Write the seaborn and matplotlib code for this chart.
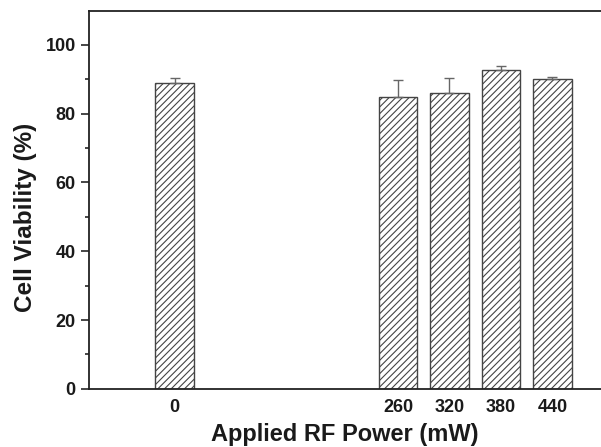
import numpy as np
import pandas as pd
import seaborn as sns
import matplotlib.pyplot as plt
from matplotlib import font_manager

# Values
power_mw = [0, 260, 320, 380, 440]
viability = [89.0, 84.9, 86.1, 92.8, 90.1]
viability_err = [1.4, 4.9, 4.2, 1.2, 0.5]

data = pd.DataFrame({'power': power_mw, 'viability': viability})

# keep the narrow Liberation cut from being picked instead of the regular one
font_manager.fontManager.ttflist = [f for f in font_manager.fontManager.ttflist
                                    if 'Narrow' not in f.fname]
font_manager.fontManager._findfont_cached.cache_clear()

sns.set_style('ticks')
plt.rcParams['font.family'] = ['Liberation Sans', 'DejaVu Sans']
plt.rcParams['hatch.linewidth'] = 0.8
plt.rcParams['hatch.color'] = '#555555'

fig = plt.figure(figsize=(6.01, 4.47), dpi=100)
ax = fig.add_axes([0.148, 0.130, 0.852, 0.8465])

sns.barplot(data=data, x='power', y='viability', native_scale=True, width=0.75,
            errorbar=None, color='white', edgecolor='#444444', linewidth=1.0,
            hatch='/////', ax=ax)

# upward-only error bars
ax.errorbar(power_mw, viability, yerr=[np.zeros(len(viability_err)), viability_err],
            fmt='none', ecolor='#666666', elinewidth=1.0, capsize=3.5, capthick=1.0)

ax.set_xlim(-100, 496.5)
ax.set_ylim(0, 110)
ax.set_xticks(power_mw)
ax.set_xticklabels([str(p) for p in power_mw])
ax.set_yticks([0, 20, 40, 60, 80, 100])
ax.set_yticks([10, 30, 50, 70, 90], minor=True)

ax.tick_params(axis='x', length=0, pad=7, labelsize=13, labelcolor='#1a1a1a')
ax.tick_params(axis='y', which='major', direction='out', length=6, width=1.2,
               pad=3.5, labelsize=13, labelcolor='#1a1a1a')
ax.tick_params(axis='y', which='minor', direction='out', length=3, width=1.2)
for lab in ax.get_xticklabels() + ax.get_yticklabels():
    lab.set_fontweight('bold')

for side in ['left', 'bottom', 'top']:
    ax.spines[side].set_linewidth(1.3)
    ax.spines[side].set_color('#222222')
ax.spines['right'].set_visible(False)

ax.set_xlabel('Applied RF Power (mW)', fontsize=17, fontweight='bold', labelpad=5,
              color='#1a1a1a')
ax.set_ylabel('Cell Viability (%)', fontsize=17.5, fontweight='bold',
              color='#1a1a1a')
ax.yaxis.set_label_coords(-0.102, 0.454)

fig.savefig('out.png', dpi=100)
